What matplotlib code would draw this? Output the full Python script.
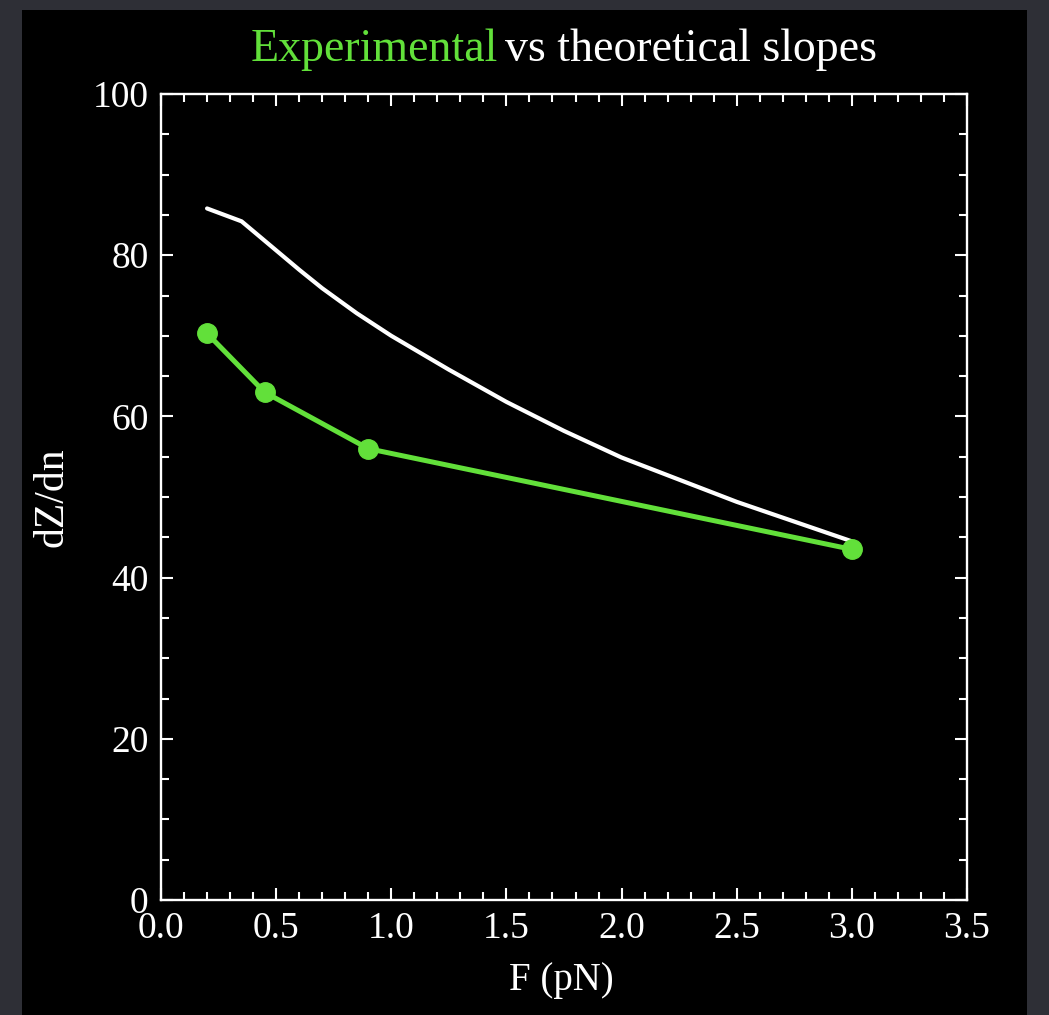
import numpy as np
import matplotlib
matplotlib.use("Agg")
from matplotlib import pyplot as plt
from matplotlib.patches import Rectangle
from matplotlib.ticker import MultipleLocator, FormatStrFormatter

# dados
f_exp = [0.2, 0.45, 0.9, 3.0]
dz_exp = [70.3, 63.0, 56.0, 43.5]

f_teo = [0.2, 0.35, 0.5, 0.6, 0.7, 0.85, 1.0, 1.25, 1.5, 1.75, 2.0, 2.5, 3.0]
dz_teo = [85.8, 84.2, 80.6, 78.2, 75.9, 72.8, 70.0, 65.8, 61.8, 58.2, 54.9, 49.4, 44.5]

verde = '#62e03a'
plt.rcParams['font.family'] = ['Liberation Serif', 'DejaVu Serif']

fig = plt.figure(figsize=(10.49, 10.15), dpi=100, facecolor='#2e2f36')
# painel preto por baixo de tudo
fig.patches.append(Rectangle((22 / 1049, 0), 1005 / 1049, 1005 / 1015,
                             transform=fig.transFigure, facecolor='black',
                             edgecolor='none', zorder=-10))

ax = fig.add_axes([161 / 1049, 115 / 1015, 806 / 1049, 806 / 1015])
ax.set_facecolor('black')

ax.plot(f_teo, dz_teo, color='white', lw=3.0, zorder=3,
        solid_joinstyle='round', solid_capstyle='round')
ax.plot(f_exp, dz_exp, color=verde, lw=3.6, marker='o', ms=14, zorder=4)

ax.set_xlim(0, 3.5)
ax.set_ylim(0, 100)
ax.xaxis.set_major_locator(MultipleLocator(0.5))
ax.xaxis.set_minor_locator(MultipleLocator(0.1))
ax.yaxis.set_major_locator(MultipleLocator(20))
ax.yaxis.set_minor_locator(MultipleLocator(5))
ax.xaxis.set_major_formatter(FormatStrFormatter('%.1f'))

ax.tick_params(which='both', direction='in', top=True, right=True,
               color='white', labelcolor='white', labelsize=27, width=1.5)
ax.tick_params(which='major', length=8.5)
ax.tick_params(which='minor', length=5.5)
ax.tick_params(axis='x', which='major', pad=8)
ax.tick_params(axis='y', which='major', pad=9)
for s in ax.spines.values():
    s.set_color('white')
    s.set_linewidth(1.7)

ax.set_xlabel('F (pN)', color='white', fontsize=28, va='baseline')
ax.xaxis.set_label_coords(400.5 / 806, -90 / 806)
ax.set_ylabel('dZ/dn', color='white', fontsize=30, va='baseline')
ax.yaxis.set_label_coords(-99 / 806, 402.5 / 806)

# titulo em duas cores
fig.text(498 / 1049, 0.940, 'Experimental', color=verde, fontsize=33,
         ha='right', va='baseline')
fig.text(505 / 1049, 0.940, 'vs theoretical slopes', color='white',
         fontsize=33, ha='left', va='baseline')

fig.savefig('out.png', dpi=100, facecolor=fig.get_facecolor())
